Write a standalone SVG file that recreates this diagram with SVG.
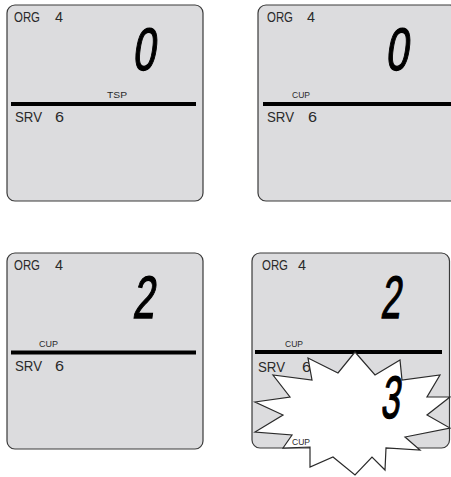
<svg xmlns="http://www.w3.org/2000/svg" width="451" height="477" viewBox="0 0 451 477">
<style>
.panel{fill:#dcdcde;stroke:#3a3a3a;stroke-width:1.2}
.bar{stroke:#000;stroke-width:4}
.lcd{font-family:"Liberation Sans",Arial,sans-serif;font-size:14px;fill:#2a2a2a}
.sm{font-family:"Liberation Sans",Arial,sans-serif;font-size:9px;fill:#2a2a2a}
.big{font-family:"Liberation Sans",Arial,sans-serif;font-size:60px;fill:#000;stroke:#000;stroke-width:1.3}
.burst{fill:#fff;stroke:#2a2a2a;stroke-width:1.2;stroke-linejoin:miter}
</style>
<rect width="451" height="477" fill="#fff"/>
<g id="panel1">
<rect class="panel" x="7" y="5" width="196" height="196" rx="8"/>
<line class="bar" x1="11" y1="104" x2="196" y2="104"/>
<text class="lcd" x="14" y="22" textLength="26" lengthAdjust="spacingAndGlyphs">ORG</text>
<text class="lcd" x="55" y="22" textLength="8" lengthAdjust="spacingAndGlyphs">4</text>
<g transform="translate(129,70) skewX(-8)"><text class="big" x="3" y="0" textLength="23" lengthAdjust="spacingAndGlyphs">0</text></g>
<text class="sm" x="107" y="98" textLength="20" lengthAdjust="spacingAndGlyphs">TSP</text>
<text class="lcd" x="15" y="122" textLength="27" lengthAdjust="spacingAndGlyphs">SRV</text>
<text class="lcd" x="55" y="122" textLength="9" lengthAdjust="spacingAndGlyphs">6</text>
</g>
<g id="panel2">
<rect class="panel" x="258" y="5" width="200" height="196" rx="8"/>
<line class="bar" x1="263" y1="104" x2="451" y2="104"/>
<text class="lcd" x="267" y="22" textLength="26" lengthAdjust="spacingAndGlyphs">ORG</text>
<text class="lcd" x="307" y="22" textLength="8" lengthAdjust="spacingAndGlyphs">4</text>
<g transform="translate(382,70) skewX(-8)"><text class="big" x="3" y="0" textLength="23" lengthAdjust="spacingAndGlyphs">0</text></g>
<text class="sm" x="292" y="98" textLength="18" lengthAdjust="spacingAndGlyphs">CUP</text>
<text class="lcd" x="267" y="122" textLength="27" lengthAdjust="spacingAndGlyphs">SRV</text>
<text class="lcd" x="308" y="122" textLength="9" lengthAdjust="spacingAndGlyphs">6</text>
</g>
<g id="panel3">
<rect class="panel" x="7" y="253" width="196" height="196" rx="8"/>
<line class="bar" x1="11" y1="352.5" x2="196" y2="352.5"/>
<text class="lcd" x="14" y="270" textLength="26" lengthAdjust="spacingAndGlyphs">ORG</text>
<text class="lcd" x="55" y="270" textLength="8" lengthAdjust="spacingAndGlyphs">4</text>
<g transform="translate(129,318) skewX(-8)"><text class="big" x="3" y="0" textLength="22" lengthAdjust="spacingAndGlyphs">2</text></g>
<text class="sm" x="39" y="347" textLength="19" lengthAdjust="spacingAndGlyphs">CUP</text>
<text class="lcd" x="15" y="371" textLength="27" lengthAdjust="spacingAndGlyphs">SRV</text>
<text class="lcd" x="55" y="371" textLength="9" lengthAdjust="spacingAndGlyphs">6</text>
</g>
<g id="panel4">
<rect class="panel" x="252" y="253" width="197.5" height="195" rx="8"/>
<line class="bar" x1="255" y1="352" x2="442" y2="352"/>
<text class="lcd" x="262" y="270" textLength="26" lengthAdjust="spacingAndGlyphs">ORG</text>
<text class="lcd" x="298" y="270" textLength="8" lengthAdjust="spacingAndGlyphs">4</text>
<g transform="translate(377,318) skewX(-8)"><text class="big" x="3" y="0" textLength="20" lengthAdjust="spacingAndGlyphs">2</text></g>
<text class="sm" x="285" y="347" textLength="18" lengthAdjust="spacingAndGlyphs">CUP</text>
<text class="lcd" x="258" y="372" textLength="27" lengthAdjust="spacingAndGlyphs">SRV</text>
<text class="lcd" x="302" y="372" textLength="9" lengthAdjust="spacingAndGlyphs">6</text>
</g>
<g id="starburst">
<polygon class="burst" points="355,352 338,373 308,358 312,380 273,375 290,397 255,402 283,415 255,432 292,435 283,448 310,447 310,467 333,457 355,475 372,457 385,470 386,448 420,450 405,437 450,428 427,415 450,397 427,397 440,375 402,380 400,360 375,375"/>
<g transform="translate(377,418) skewX(-8)"><text class="big" x="3" y="0" textLength="19" lengthAdjust="spacingAndGlyphs">3</text></g>
<text class="sm" x="292" y="445" textLength="18" lengthAdjust="spacingAndGlyphs">CUP</text>
</g>
</svg>
